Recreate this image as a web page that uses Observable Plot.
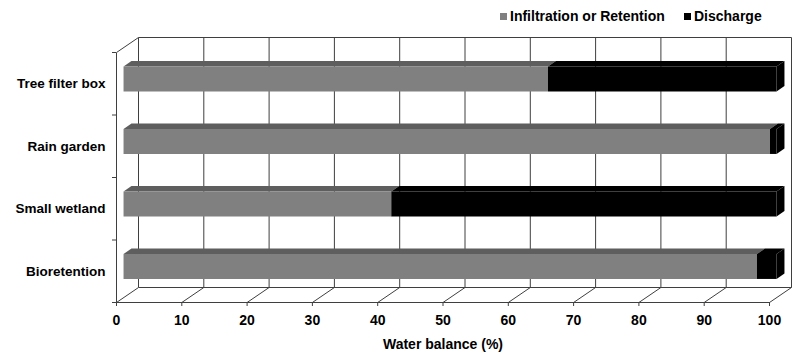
<!DOCTYPE html>
<html><head><meta charset="utf-8">
<script src="https://cdn.jsdelivr.net/npm/d3@7"></script>
<script src="https://cdn.jsdelivr.net/npm/@observablehq/plot@0.6"></script>
<style>
body{margin:0;background:#fff;}
#wrap{position:relative;width:800px;height:359px;font-family:"Liberation Sans",Arial,sans-serif;font-weight:bold;}
#legend{position:absolute;top:0;left:0;width:800px;height:30px;font-size:14px;color:#000;}
.item{position:absolute;top:8px;display:flex;align-items:center;gap:3px;line-height:16px;white-space:nowrap;}
.sw{width:7px;height:7px;display:inline-block;}
svg{display:block;}
</style></head><body><div id="wrap"><div id="legend"></div></div>
<script>
// ---- data ----
const categories = ["Tree filter box", "Rain garden", "Small wetland", "Bioretention"];
const infiltration = [65, 99, 41, 97];
const discharge = [35, 1, 59, 3];
const seriesNames = ["Infiltration or Retention", "Discharge"];
const xTicks = [0, 10, 20, 30, 40, 50, 60, 70, 80, 90, 100];
const xLabel = "Water balance (%)";

// ---- styles / layout ----
const seriesColors = ["#808080", "#000000"];
const topColors = ["#5e5e5e", "#050505"];
const W = 800, H = 359, mL = 116, mR = 31, mT = 52, mB = 57;
const n = categories.length;
const pxX = (W - mL - mR) / 100, pxY = (H - mT - mB) / n;
const depthX = 22 / pxX, depthY = 15 / pxY;       // full box depth in data units
const f0 = 0.32, f1 = 0.68, halfH = 0.2;          // bar depth range and half height
const P = (x, y, f) => ({x: x + f * depthX, y: y + f * depthY});

// ---- box frame segments ----
const segs = [];
const seg = (a, b) => segs.push({x1: a.x, y1: a.y, x2: b.x, y2: b.y});
for (const t of xTicks) {
  seg(P(t, 0, 1), P(t, n, 1));   // back wall grid
  seg(P(t, 0, 0), P(t, 0, 1));   // floor slants
}
seg(P(0, n, 1), P(100, n, 1));
seg(P(0, 0, 1), P(100, 0, 1));
seg(P(0, 0, 0), P(100, 0, 0));
seg(P(0, 0, 0), P(0, n, 0));
seg(P(0, n, 0), P(0, n, 1));

// ---- bar faces ----
const grayTop = [], grayFront = [], blackFaces = [];
categories.forEach((c, i) => {
  const yc = n - 1 - i + 0.5, yb = yc - halfH, yt = yc + halfH;
  const a = 0, b = infiltration[i], e = infiltration[i] + discharge[i];
  const poly = (arr, id, pts) => pts.forEach(p => arr.push({id, ...p}));
  poly(grayTop, c + "t", [P(a, yt, f0), P(b, yt, f0), P(b, yt, f1), P(a, yt, f1)]);
  poly(grayFront, c + "f", [P(a, yb, f0), P(b, yb, f0), P(b, yt, f0), P(a, yt, f0)]);
  poly(blackFaces, c + "bt", [P(b, yt, f0), P(e, yt, f0), P(e, yt, f1), P(b, yt, f1)]);
  poly(blackFaces, c + "bf", [P(b, yb, f0), P(e, yb, f0), P(e, yt, f0), P(b, yt, f0)]);
  poly(blackFaces, c + "br", [P(e, yb, f0), P(e, yb, f1), P(e, yt, f1), P(e, yt, f0)]);
});

const chart = Plot.plot({
  width: W, height: H,
  marginLeft: mL, marginRight: mR, marginTop: mT, marginBottom: mB,
  style: {fontFamily: '"Liberation Sans", Arial, sans-serif', fontWeight: "bold", fontSize: "13px", color: "#000", background: "#fff"},
  x: {type: "linear", domain: [0, 100]},
  y: {type: "linear", domain: [0, n]},
  marks: [
    Plot.link(segs, {x1: "x1", y1: "y1", x2: "x2", y2: "y2", stroke: "#3f3f3f", strokeWidth: 1}),
    Plot.line(grayTop, {x: "x", y: "y", z: "id", fill: topColors[0], stroke: "none"}),
    Plot.line(grayFront, {x: "x", y: "y", z: "id", fill: seriesColors[0], stroke: "none"}),
    Plot.line(blackFaces, {x: "x", y: "y", z: "id", fill: seriesColors[1], stroke: "none"}),
    Plot.axisX(xTicks, {tickSize: 4, tickPadding: 9, fontSize: 14, fontWeight: "bold", label: null, stroke: "#3f3f3f"}),
    Plot.axisY(d3.range(n + 1), {tickSize: 4, tickFormat: () => "", label: null, stroke: "#3f3f3f"}),
    Plot.axisY(d3.range(n).map(i => i + 0.5), {tickSize: 0, tickPadding: 11, fontSize: 13.5, fontWeight: "bold", label: null,
      tickFormat: v => categories[n - 1 - Math.floor(v)]}),
    Plot.text([xLabel], {text: d => d, frameAnchor: "bottom", dy: 46, fontSize: 14, fontWeight: "bold"})
  ]
});
document.getElementById("wrap").appendChild(chart);

// ---- legend ----
const legend = document.getElementById("legend");
const legendX = [500, 684];
seriesNames.forEach((s, i) => {
  const it = document.createElement("div");
  it.className = "item";
  it.style.left = legendX[i] + "px";
  it.innerHTML = `<span class="sw" style="background:${seriesColors[i]}"></span><span>${s}</span>`;
  legend.appendChild(it);
});
</script></body></html>
